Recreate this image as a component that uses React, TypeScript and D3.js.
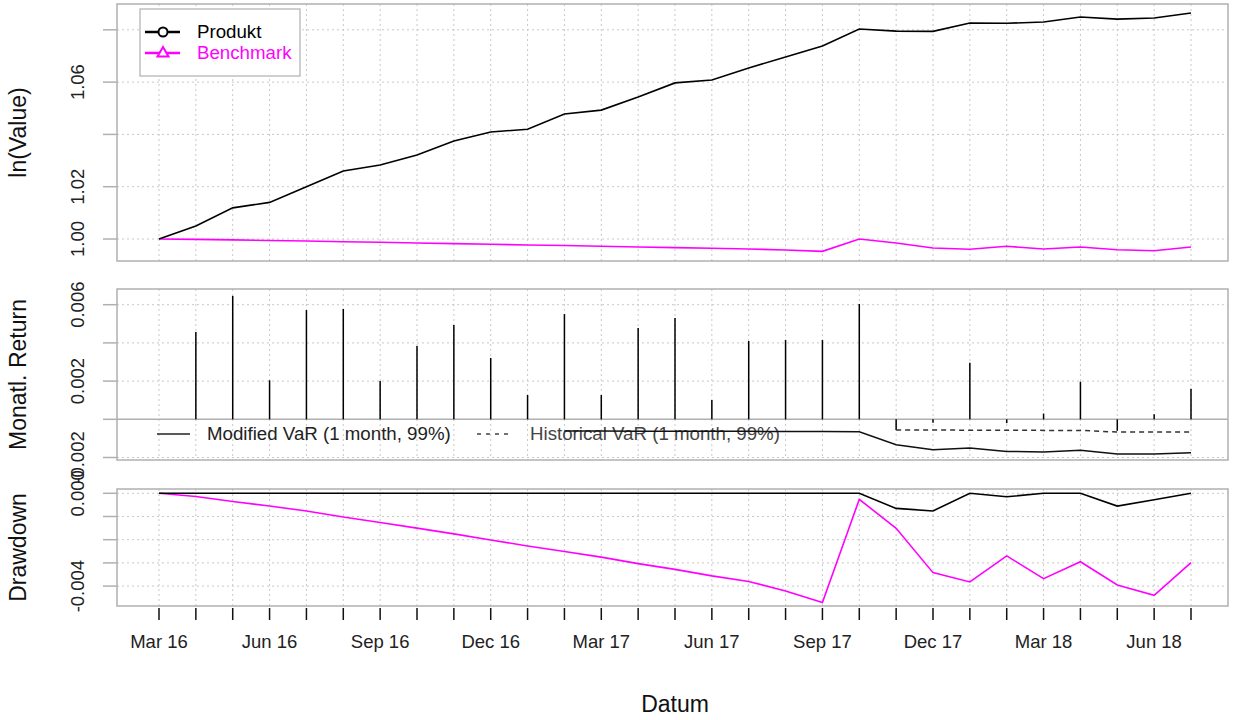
import React from "react";
import * as d3 from "d3";

const months = ["Mar 16","Apr 16","May 16","Jun 16","Jul 16","Aug 16","Sep 16","Oct 16","Nov 16","Dec 16","Jan 17","Feb 17","Mar 17","Apr 17","May 17","Jun 17","Jul 17","Aug 17","Sep 17","Oct 17","Nov 17","Dec 17","Jan 18","Feb 18","Mar 18","Apr 18","May 18","Jun 18","Jul 18"];
const xLabels = ["Mar 16","Jun 16","Sep 16","Dec 16","Mar 17","Jun 17","Sep 17","Dec 17","Mar 18","Jun 18"];

const produkt = [1.000,1.005,1.0119,1.0140,1.0200,1.026,1.0283,1.0321,1.0375,1.0409,1.042,1.0478,1.0493,1.0543,1.0597,1.0608,1.0654,1.0696,1.0738,1.0803,1.0795,1.0794,1.0826,1.0825,1.083,1.0849,1.0841,1.0845,1.0864];
const benchmark = [1.0,0.99986,0.99965,0.99945,0.99924,0.99898,0.99874,0.9985,0.99825,0.99799,0.99773,0.99749,0.99725,0.99697,0.99672,0.99644,0.9962,0.99579,0.99529,1.0,0.99847,0.99656,0.99606,0.99721,0.99618,0.99694,0.99591,0.99553,0.99694];

const returns: (number | null)[] = [null,0.00457,0.00646,0.00204,0.00572,0.00578,0.00201,0.00384,0.00494,0.00321,0.00127,0.00551,0.00127,0.00478,0.0053,0.00101,0.0041,0.00415,0.00415,0.00604,-0.00056,-0.00018,0.00296,-0.0002,0.0003,0.00197,-0.0006,0.00026,0.0016];
const modVaR: (number | null)[] = [null,null,null,null,null,null,null,null,null,null,null,-0.00061,-0.00061,-0.00062,-0.00062,-0.00063,-0.00063,-0.00064,-0.00064,-0.00065,-0.00133,-0.00159,-0.0015,-0.00168,-0.00171,-0.00162,-0.00182,-0.00182,-0.00175];
const histVaR: (number | null)[] = [null,null,null,null,null,null,null,null,null,null,null,null,null,null,null,null,null,null,null,null,-0.00056,-0.00056,-0.00057,-0.00057,-0.00058,-0.00058,-0.00067,-0.00067,-0.00067];

const ddProdukt = [0,0,0,0,0,0,0,0,0,0,0,0,0,0,0,0,0,0,0,0,-0.00065,-0.00076,0,-0.00015,0,0,-0.00055,-0.00028,0];
const ddBenchmark = [0,-0.000138,-0.000353,-0.000547,-0.000763,-0.00102,-0.00126,-0.0015,-0.00175,-0.00201,-0.00227,-0.00251,-0.00275,-0.00303,-0.00328,-0.00356,-0.0038,-0.00421,-0.00471,-0.00026,-0.00151,-0.00342,-0.00382,-0.0027,-0.00368,-0.00295,-0.00395,-0.0044,-0.00299];

const topTicks = [1.0,1.02,1.04,1.06,1.08];
const topLabels = [1.0,1.02,1.06];
const midTicks = [-0.002,0,0.002,0.004,0.006];
const midLabels = [-0.002,0.002,0.006];
const ddTicks = [0,-0.001,-0.002,-0.003,-0.004];
const ddLabels = [0,-0.004];

const FONT = "'Liberation Sans', Arial, Helvetica, sans-serif";
const L = 117, R = 1228;
const GRID = "#c8c8c8";
const BOX = "#b0b0b0";

export default function App() {
  const x = d3.scalePoint<string>().domain(months).range([159, 1191]);
  const yTop = d3.scaleLinear().domain([0.99159, 1.08987]).range([261, 4]);
  const yMid = d3.scaleLinear().domain([-0.002131, 0.006822]).range([460, 289]);
  const yDD = d3.scaleLinear().domain([-0.004858, 0.000185]).range([606, 489]);

  const mkLine = (y: d3.ScaleLinear<number, number>) =>
    d3.line<number | null>()
      .defined((d) => d !== null)
      .x((_, i) => x(months[i]) as number)
      .y((d) => y(d as number));

  const panel = (y: d3.ScaleLinear<number, number>, ticks: number[], labels: number[], fmt: (v: number) => string, title: string, gridTicks: number[]) => {
    const [y0, y1] = y.range();
    return (
      <g>
        {months.map((m) => (
          <line key={"v" + m} x1={x(m)} x2={x(m)} y1={y1} y2={y0} stroke={GRID} strokeDasharray="2,3" strokeWidth={1} />
        ))}
        {gridTicks.map((t) => (
          <line key={"h" + t} x1={L} x2={R} y1={y(t)} y2={y(t)} stroke={GRID} strokeDasharray="2,3" strokeWidth={1} />
        ))}
        {ticks.map((t) => (
          <line key={"t" + t} x1={L - 14} x2={L} y1={y(t)} y2={y(t)} stroke={BOX} strokeWidth={1.5} />
        ))}
        {labels.map((t) => (
          <text key={"l" + t} transform={`translate(84,${y(t)}) rotate(-90)`} textAnchor="middle" fontSize={18.5} fontFamily={FONT} fill="#222">{fmt(t)}</text>
        ))}
        <text transform={`translate(26,${(y0 + y1) / 2}) rotate(-90)`} textAnchor="middle" fontSize={23} fontFamily={FONT} fill="#111">{title}</text>
      </g>
    );
  };

  const f2 = (v: number) => v.toFixed(2);
  const f3 = (v: number) => v.toFixed(3);

  return (
    <svg width={1233} height={720} style={{ position: "fixed", left: 0, top: 0, background: "#fff" }}>
      {panel(yTop, topTicks, topLabels, f2, "ln(Value)", topTicks)}
      {panel(yMid, midTicks, midLabels, f3, "Monatl. Return", midTicks.filter((t) => t !== 0))}
      {panel(yDD, ddTicks, ddLabels, f3, "Drawdown", ddTicks)}

      {/* top panel */}
      <path d={mkLine(yTop)(benchmark) || ""} fill="none" stroke="#ff00ff" strokeWidth={1.6} />
      <path d={mkLine(yTop)(produkt) || ""} fill="none" stroke="#000" strokeWidth={1.6} />
      <rect x={L} y={4} width={R - L} height={257} fill="none" stroke={BOX} strokeWidth={1.5} />
      <g>
        <rect x={140} y={9} width={160} height={67} fill="#fff" stroke={BOX} strokeWidth={1.2} />
        <line x1={145} x2={180} y1={32} y2={32} stroke="#000" strokeWidth={2.5} />
        <circle cx={163} cy={32} r={4.5} fill="#fff" stroke="#000" strokeWidth={2} />
        <text x={197} y={38} fontSize={18.7} fontFamily={FONT} fill="#000">Produkt</text>
        <line x1={145} x2={180} y1={53} y2={53} stroke="#ff00ff" strokeWidth={2.5} />
        <path d={`M${163},${47} L${168.5},${56.5} L${157.5},${56.5} Z`} fill="#fff" stroke="#ff00ff" strokeWidth={2} />
        <text x={197} y={59} fontSize={18.7} fontFamily={FONT} fill="#ff00ff">Benchmark</text>
      </g>

      {/* middle panel */}
      <line x1={L} x2={R} y1={yMid(0)} y2={yMid(0)} stroke={BOX} strokeWidth={1.5} />
      {returns.map((r, i) => r === null ? null : (
        <line key={"r" + i} x1={x(months[i])} x2={x(months[i])} y1={yMid(0)} y2={yMid(r)} stroke="#000" strokeWidth={1.5} />
      ))}
      <g>
        <line x1={157} x2={190} y1={434} y2={434} stroke="#222" strokeWidth={1.3} />
        <text x={207} y={440} fontSize={18.7} fontFamily={FONT} fill="#222">Modified VaR (1 month, 99%)</text>
        <line x1={477} x2={513} y1={434} y2={434} stroke="#444" strokeWidth={1.3} strokeDasharray="4,5" />
        <text x={530} y={440} fontSize={18.7} fontFamily={FONT} fill="#444">Historical VaR (1 month, 99%)</text>
      </g>
      <path d={mkLine(yMid)(histVaR) || ""} fill="none" stroke="#333" strokeWidth={1.5} strokeDasharray="5,4" />
      <path d={mkLine(yMid)(modVaR) || ""} fill="none" stroke="#111" strokeWidth={1.5} />
      <rect x={L} y={289} width={R - L} height={171} fill="none" stroke={BOX} strokeWidth={1.5} />

      {/* drawdown panel */}
      <path d={mkLine(yDD)(ddBenchmark) || ""} fill="none" stroke="#ff00ff" strokeWidth={1.6} />
      <path d={mkLine(yDD)(ddProdukt) || ""} fill="none" stroke="#000" strokeWidth={1.6} />
      <rect x={L} y={489} width={R - L} height={117} fill="none" stroke={BOX} strokeWidth={1.5} />

      {/* x axis */}
      {months.map((m) => (
        <line key={"xt" + m} x1={x(m)} x2={x(m)} y1={608} y2={620} stroke="#111" strokeWidth={1.5} />
      ))}
      {xLabels.map((m) => (
        <text key={"xl" + m} x={x(m)} y={648} textAnchor="middle" fontSize={18.5} fontFamily={FONT} fill="#222">{m}</text>
      ))}
      <text x={675} y={712} textAnchor="middle" fontSize={23} fontFamily={FONT} fill="#111">Datum</text>
    </svg>
  );
}
